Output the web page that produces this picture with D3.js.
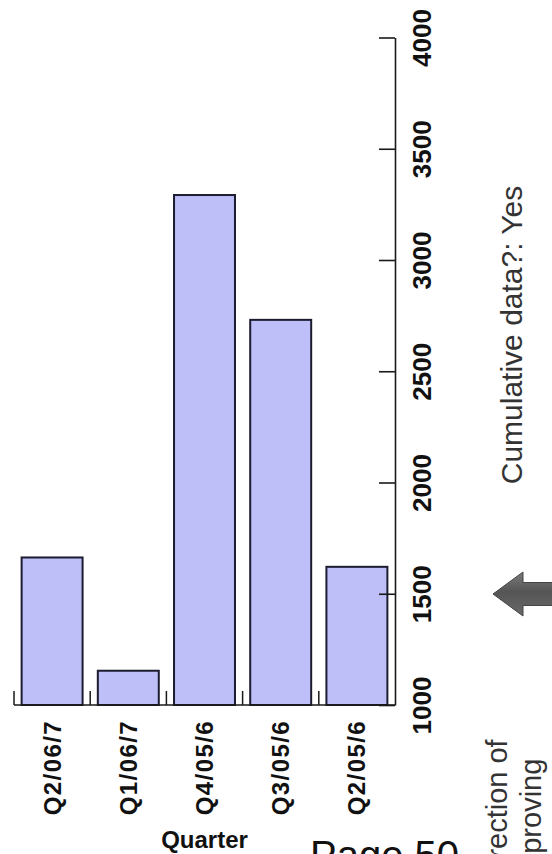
<!DOCTYPE html>
<html>
<head>
<meta charset="utf-8">
<script src="https://cdn.jsdelivr.net/npm/d3@7/dist/d3.min.js"></script>
<style>
  html, body { margin: 0; padding: 0; background: #ffffff; }
  svg { display: block; }
</style>
</head>
<body>
<script>
// Quarterly values (cumulative), most recent quarter first
const categories = ["Q2/06/7", "Q1/06/7", "Q4/05/6", "Q3/05/6", "Q2/05/6"];
const values = [1663, 1154, 3292, 2731, 1621];
const valueTicks = [1000, 1500, 2000, 2500, 3000, 3500, 4000];
const axisTitle = "Quarter";
const noteText = "Cumulative data?: Yes";
const directionLines = ["Direction of", "Improving"];
const pageText = "Page 50";

const W = 552, H = 854;
const svg = d3.select("body").append("svg")
  .attr("width", W).attr("height", H)
  .style("font-family", "'Liberation Sans', Arial, sans-serif");

const x = d3.scaleBand()
  .domain(categories)
  .range([14, 395])
  .paddingInner(0.2)
  .paddingOuter(0.1);

const y = d3.scaleLinear()
  .domain([1000, 4000])
  .range([705, 37.5]);

const baseY = y(1000);
const axisX = x.range()[1];

// bars
svg.append("g")
  .selectAll("rect")
  .data(values)
  .join("rect")
  .attr("x", (d, i) => x(categories[i]))
  .attr("width", x.bandwidth())
  .attr("y", d => y(d))
  .attr("height", d => baseY - y(d))
  .attr("fill", "#bebef8")
  .attr("stroke", "#1c1c30")
  .attr("stroke-width", 2);

// category baseline with boundary ticks
const bottom = svg.append("g").attr("stroke", "#1a1a1a").attr("stroke-width", 1.5);
bottom.append("line")
  .attr("x1", x.range()[0]).attr("x2", axisX)
  .attr("y1", baseY).attr("y2", baseY);
const bounds = categories.map(c => x(c) - x.step() * x.paddingInner() / 2);
bottom.selectAll("line.b")
  .data(bounds)
  .join("line")
  .attr("class", "b")
  .attr("x1", d => d).attr("x2", d => d)
  .attr("y1", baseY - 14).attr("y2", baseY);

// category labels, rotated
svg.append("g")
  .selectAll("text")
  .data(categories)
  .join("text")
  .attr("transform", c => `translate(${x(c) + x.bandwidth() / 2},720) rotate(-90)`)
  .attr("text-anchor", "end")
  .attr("dominant-baseline", "central")
  .attr("font-size", 24)
  .attr("font-weight", "bold")
  .attr("letter-spacing", 1.4)
  .attr("fill", "#111")
  .text(c => c);

// axis title
svg.append("text")
  .attr("x", (x.range()[0] + axisX) / 2)
  .attr("y", 848)
  .attr("text-anchor", "middle")
  .attr("font-size", 24)
  .attr("font-weight", "bold")
  .attr("fill", "#111")
  .text(axisTitle);

// value axis on the right, ticks pointing into the plot
const yAxis = svg.append("g")
  .attr("transform", `translate(${axisX},0)`)
  .call(d3.axisLeft(y).tickValues(valueTicks).tickSizeInner(16).tickSizeOuter(0).tickFormat(d3.format("d")));
yAxis.select(".domain").attr("stroke", "#1a1a1a").attr("stroke-width", 1.6);
yAxis.selectAll(".tick line").attr("stroke", "#1a1a1a").attr("stroke-width", 1.6);
yAxis.selectAll(".tick text")
  .attr("x", null).attr("dy", null)
  .attr("transform", "translate(27,0) rotate(-90)")
  .attr("text-anchor", "middle")
  .attr("dominant-baseline", "central")
  .attr("font-size", 26)
  .attr("font-weight", "bold")
  .attr("font-family", "'Liberation Sans', Arial, sans-serif")
  .attr("fill", "#111");

// note
svg.append("text")
  .attr("transform", "translate(522,335) rotate(-90)")
  .attr("text-anchor", "middle")
  .attr("font-size", 30)
  .attr("fill", "#333")
  .text(noteText);

// direction arrow
const defs = svg.append("defs");
const grad = defs.append("linearGradient")
  .attr("id", "arrowGrad").attr("x1", 0).attr("y1", 0).attr("x2", 0).attr("y2", 1);
grad.append("stop").attr("offset", "0%").attr("stop-color", "#7a7a7a");
grad.append("stop").attr("offset", "45%").attr("stop-color", "#555555");
grad.append("stop").attr("offset", "100%").attr("stop-color", "#6a6a6a");
const tipX = 493, tipY = 594, headBack = 523, headHalf = 22, shaftHalf = 11.5;
svg.append("path")
  .attr("d", `M${tipX},${tipY} L${headBack},${tipY - headHalf} L${headBack},${tipY - shaftHalf} L${W + 5},${tipY - shaftHalf} L${W + 5},${tipY + shaftHalf} L${headBack},${tipY + shaftHalf} L${headBack},${tipY + headHalf} Z`)
  .attr("fill", "url(#arrowGrad)")
  .attr("stroke", "#444")
  .attr("stroke-width", 1);

// direction text, running off the page edge
svg.append("g")
  .selectAll("text")
  .data(directionLines)
  .join("text")
  .attr("transform", (d, i) => `translate(${507 + i * 34},886) rotate(-90)`)
  .attr("text-anchor", "start")
  .attr("font-size", 29)
  .attr("fill", "#333")
  .text(d => d);

// page number
svg.append("text")
  .attr("x", 310)
  .attr("y", 869)
  .attr("font-size", 40)
  .attr("fill", "#111")
  .text(pageText);
</script>
</body>
</html>
